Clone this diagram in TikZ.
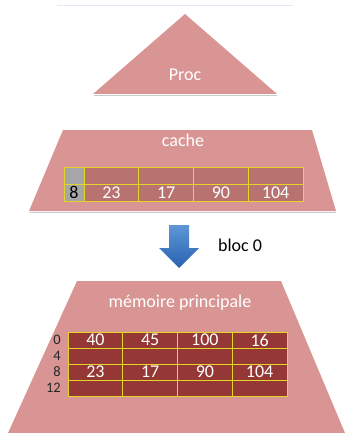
\documentclass[tikz,border=0pt]{standalone}
\usepackage{fontspec}
\setmainfont{Carlito}
\definecolor{slab}{RGB}{217,149,148}
\definecolor{cachecell}{RGB}{184,115,113}
\definecolor{memcell}{RGB}{149,55,53}
\definecolor{tagcell}{RGB}{166,166,166}
\definecolor{gridline}{RGB}{228,212,40}
\definecolor{toprule}{RGB}{234,230,250}
\definecolor{arrowtop}{RGB}{95,150,215}
\definecolor{arrowbot}{RGB}{40,98,175}
\begin{document}
\begin{tikzpicture}[x=1pt,y=-1pt,
  slabfill/.style={fill=slab,draw=none},
  slabshadow/.style={draw=black!35,line width=1.6pt,opacity=0.6},
  title/.style={text=white,font=\fontsize{18}{21}\selectfont,inner sep=0pt},
  cell/.style={draw=gridline,line width=0.9pt,inner sep=0pt,
    minimum width=54.75pt,text=white,font=\fontsize{18}{21}\selectfont},
  cachebox/.style={cell,fill=cachecell,minimum height=17pt},
  tagbox/.style={cell,fill=tagcell,minimum width=20pt,minimum height=17pt,text=black},
  membox/.style={cell,fill=memcell,minimum height=16pt},
  addr/.style={anchor=east,inner sep=0pt,text=black!85,font=\fontsize{14.5}{16}\selectfont}]
\useasboundingbox (0,0) rectangle (346,433);

% faint rule at the top
\draw[toprule,line width=1pt] (57,6) -- (293,6);

% processor
\draw[slabshadow] (94,95.6) -- (277,95.6);
\fill[slabfill] (185,14) -- (277,94) -- (93,94) -- cycle;
\node[title] (proc) at (185,75) {Proc};

% cache level
\draw[slabshadow] (30,212.6) -- (336,212.6);
\fill[slabfill] (63,130) -- (312,130) -- (336,211) -- (29,211) -- cycle;
\node[title] (cache) at (183,140) {cache};
\node[tagbox] (tagA) at (74,175.5) {};
\node[tagbox] (tagB) at (74,192.5) {8};
\foreach \i/\v in {1/23,2/17,3/90,4/104} {
  \node[cachebox] (cA\i) at ({84+54.75*(\i-0.5)},175.5) {};
  \node[cachebox] (cB\i) at ({84+54.75*(\i-0.5)},192.5) {\v};
}

% transfer arrow
\shade[top color=arrowtop,bottom color=arrowbot]
  (169,225) -- (189,225) -- (189,248) -- (199,248) -- (179,268)
  -- (159,248) -- (169,248) -- cycle;
\node[inner sep=0pt,font=\fontsize{18}{21}\selectfont] (bloc) at (240,245) {bloc 0};

% main memory
\fill[slabfill] (77,281) -- (281,281) -- (345,433) -- (8,433) -- cycle;
\node[title] (mem) at (180,303) {mémoire principale};
\foreach \r/\a/\b/\c/\d [count=\j from 0] in
    {0/40/45/100/16, 4/{}/{}/{}/{}, 8/23/17/90/104, 12/{}/{}/{}/{}} {
  \node[addr] (ad\j) at (61,{340+16*\j}) {\r};
  \node[membox] (m\j a) at ({68+54.75*0.5},{340+16*\j}) {\a};
  \node[membox] (m\j b) at ({68+54.75*1.5},{340+16*\j}) {\b};
  \node[membox] (m\j c) at ({68+54.75*2.5},{340+16*\j}) {\c};
  \node[membox] (m\j d) at ({68+54.75*3.5},{340+16*\j}) {\d};
}
\end{tikzpicture}
\end{document}
